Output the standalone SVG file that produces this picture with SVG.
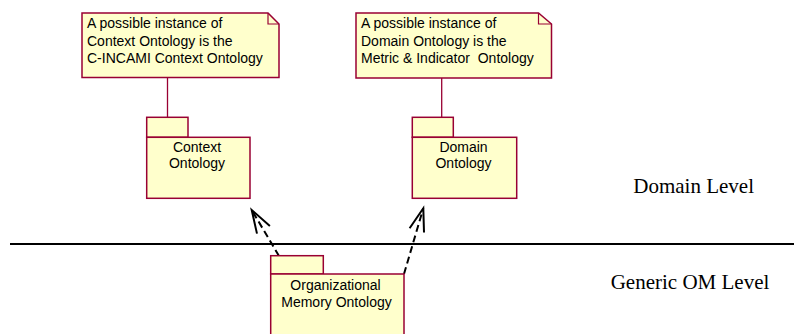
<svg xmlns="http://www.w3.org/2000/svg" width="794" height="334" viewBox="0 0 794 334">
<style>
.shape{fill:#FFFFCC;stroke:#990033;stroke-width:1.5}
.fold{fill:none;stroke:#990033;stroke-width:1.2}
.t{font-family:"Liberation Sans",Arial,sans-serif;font-size:14px;fill:#000}
.lvl{font-family:"Liberation Serif","Times New Roman",serif;font-size:21px;fill:#000}
.anchor{stroke:#990033;stroke-width:1.3;fill:none}
.dep{stroke:#000;stroke-width:2;fill:none;stroke-dasharray:7 4}
</style>
<defs>
<marker id="open" markerUnits="userSpaceOnUse" viewBox="-26 -10 30 20" markerWidth="30" markerHeight="20" refX="0" refY="0" orient="auto">
<path d="M-23,-7.5 L0,0 L-23,7.5" fill="none" stroke="#000" stroke-width="2" stroke-dasharray="none"/>
</marker>
</defs>
<rect width="794" height="334" fill="#fff"/>
<line x1="10" y1="244" x2="794" y2="244" stroke="#000" stroke-width="2"/>
<g id="connectors">
<line class="anchor" x1="167.5" y1="77.5" x2="167.5" y2="117.3"/>
<line class="anchor" x1="441.7" y1="78" x2="441.7" y2="117.3"/>
<line class="dep" x1="279" y1="256" x2="251.7" y2="210" marker-end="url(#open)"/>
<line class="dep" x1="404" y1="274" x2="423.3" y2="208.3" marker-end="url(#open)"/>
</g>
<g id="note-context">
<path class="shape" d="M82,13 L268,13 L279,24 L279,77.5 L82,77.5 Z"/>
<path class="fold" d="M268,13 L268,24 L279,24"/>
<text class="t" x="87" y="28.3">A possible instance of</text>
<text class="t" x="87" y="45.5">Context Ontology is the</text>
<text class="t" x="87" y="62.7">C-INCAMI Context Ontology</text>
</g>
<g id="note-domain">
<path class="shape" d="M356,13 L538.5,13 L551.5,24 L551.5,78 L356,78 Z"/>
<path class="fold" d="M538.5,13 L538.5,24 L551.5,24"/>
<text class="t" x="361" y="28.3">A possible instance of</text>
<text class="t" x="361" y="45.5">Domain Ontology is the</text>
<text class="t" x="361" y="62.7" xml:space="preserve">Metric &amp; Indicator  Ontology</text>
</g>
<g id="pkg-context">
<rect class="shape" x="146.7" y="117.3" width="41.3" height="20"/>
<rect class="shape" x="146.7" y="137.3" width="103.3" height="61"/>
<text class="t" x="197" y="151.7" text-anchor="middle">Context</text>
<text class="t" x="197" y="167.7" text-anchor="middle">Ontology</text>
</g>
<g id="pkg-domain">
<rect class="shape" x="412.3" y="117.3" width="41" height="20"/>
<rect class="shape" x="412.3" y="137.3" width="104.4" height="61"/>
<text class="t" x="463.5" y="151.7" text-anchor="middle">Domain</text>
<text class="t" x="463.5" y="167.7" text-anchor="middle">Ontology</text>
</g>
<g id="pkg-om">
<rect class="shape" x="270.7" y="255.7" width="52.6" height="18.3"/>
<rect class="shape" x="270.7" y="274" width="133.3" height="70"/>
<text class="t" x="335.5" y="289.5" text-anchor="middle">Organizational</text>
<text class="t" x="336.5" y="307" text-anchor="middle">Memory Ontology</text>
</g>
<g id="levels">
<text class="lvl" x="633.3" y="193.3">Domain Level</text>
<text class="lvl" x="610.7" y="289.3">Generic OM Level</text>
</g>
</svg>
